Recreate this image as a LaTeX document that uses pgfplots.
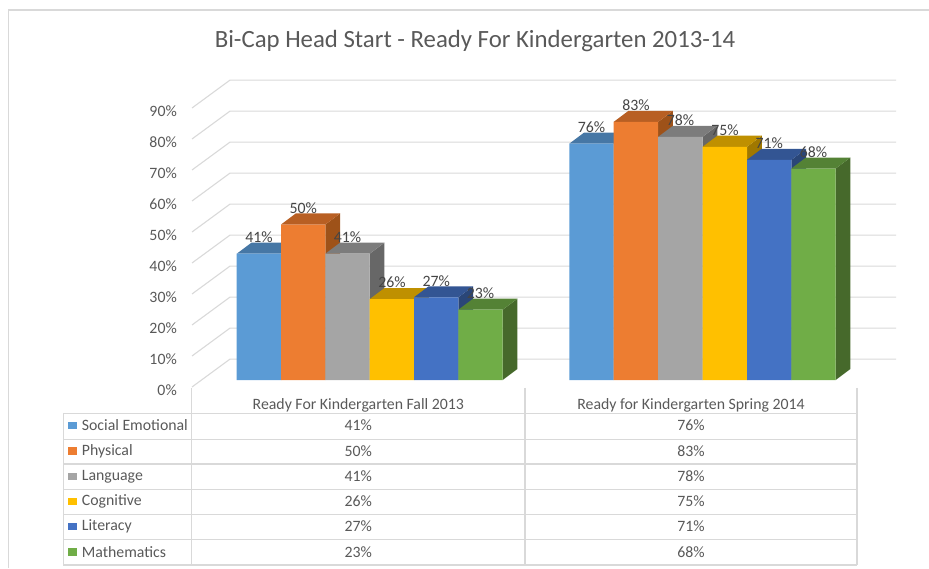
\documentclass[border=0pt]{standalone}
\usepackage{fontspec}
\setmainfont{Carlito}
\usepackage{pgfplots}
\pgfplotsset{compat=1.18}
\definecolor{txt}{HTML}{595959}
\definecolor{lab}{HTML}{454545}
\definecolor{gr}{HTML}{D9D9D9}
\definecolor{fa}{HTML}{5B9BD5}\definecolor{ta}{HTML}{4677A5}\definecolor{sa}{HTML}{3A6487}
\definecolor{fb}{HTML}{ED7D31}\definecolor{tb}{HTML}{B85F23}\definecolor{sb}{HTML}{9E5219}
\definecolor{fc}{HTML}{A5A5A5}\definecolor{tc}{HTML}{7C7C7C}\definecolor{sc}{HTML}{676767}
\definecolor{fd}{HTML}{FFC000}\definecolor{td}{HTML}{BF9000}\definecolor{sd}{HTML}{A07800}
\definecolor{fe}{HTML}{4472C4}\definecolor{te}{HTML}{335593}\definecolor{se}{HTML}{2A4678}
\definecolor{ff}{HTML}{70AD47}\definecolor{tf}{HTML}{548235}\definecolor{sf}{HTML}{46692B}
\newcommand{\faces}[4]{%
 \pgfmathsetmacro\xa{#1-22.2}\pgfmathsetmacro\xb{#1+22.2}%
 \pgfmathsetmacro\xc{\xb+14.7}\pgfmathsetmacro\xd{\xa+14.7}\pgfmathsetmacro\vb{#2+3.54}%
 \edef\tmp{\noexpand\addplot[fill=#4,draw=none,forget plot] coordinates {(\xb,0)(\xc,3.54)(\xc,\vb)(\xb,#2)};
 \noexpand\addplot[fill=#3,draw=none,forget plot] coordinates {(\xa,#2)(\xb,#2)(\xc,\vb)(\xd,\vb)};}\tmp}
\newcommand{\gridl}[1]{\pgfmathsetmacro\vb{#1+9}\edef\tmp{\noexpand\addplot[gr,line width=1.1pt] coordinates {(192,#1)(230,\vb)(896,\vb)};}\tmp}
\begin{document}
\begin{tikzpicture}[x=1pt,y=1pt]
\useasboundingbox (0,0) rectangle (929,568);
\draw[gr,line width=1.1pt] (8.8,0) -- (8.8,558) -- (929,558);
\begin{axis}[at={(192pt,181pt)},anchor=south west,scale only axis,width=704pt,height=279pt,
 xmin=192,xmax=896,ymin=0,ymax=90,clip=false,
 axis x line=none, axis y line*=left, y axis line style={draw=none},
 ytick={0,10,...,90},yticklabels={0\%,10\%,20\%,30\%,40\%,50\%,60\%,70\%,80\%,90\%},
 major tick length=0pt,
 yticklabel style={font=\fontsize{15.8}{16}\selectfont,text=txt,anchor=east,inner sep=0pt,xshift=-15pt,yshift=-3pt}]
\gridl{0}\gridl{10}\gridl{20}\gridl{30}\gridl{40}\gridl{50}\gridl{60}\gridl{70}\gridl{80}\gridl{90}
\end{axis}
\begin{axis}[at={(0pt,0pt)},anchor=south west,scale only axis,width=929pt,height=568pt,
 xmin=0,xmax=929,ymin=-60.45,ymax=122.19,clip=false,hide axis,
 /pgf/number format/assume math mode=true,
 every node near coord/.style={anchor=center,yshift=16.5pt,font=\fontsize{15.8}{16}\selectfont,text=lab,inner sep=0pt}]
\faces{258.9}{40.6}{ta}{sa}\faces{591.5}{76}{ta}{sa}
\addplot[ybar,bar shift=0pt,bar width=44.4pt,fill=fa,draw=none,forget plot] coordinates {(258.9,40.6)(591.5,76)};
\faces{303.2}{50}{tb}{sb}\faces{635.9}{83}{tb}{sb}
\addplot[ybar,bar shift=0pt,bar width=44.4pt,fill=fb,draw=none,forget plot] coordinates {(303.2,50)(635.9,83)};
\faces{347.5}{40.6}{tc}{sc}\faces{680.4}{78.2}{tc}{sc}
\addplot[ybar,bar shift=0pt,bar width=44.4pt,fill=fc,draw=none,forget plot] coordinates {(347.5,40.6)(680.4,78.2)};
\faces{391.9}{26}{td}{sd}\faces{724.9}{75}{td}{sd}
\addplot[ybar,bar shift=0pt,bar width=44.4pt,fill=fd,draw=none,forget plot] coordinates {(391.9,26)(724.9,75)};
\faces{436.2}{26.6}{te}{se}\faces{769.2}{70.8}{te}{se}
\addplot[ybar,bar shift=0pt,bar width=44.4pt,fill=fe,draw=none,forget plot] coordinates {(436.2,26.6)(769.2,70.8)};
\faces{480.5}{22.6}{tf}{sf}\faces{813.5}{68}{tf}{sf}
\addplot[ybar,bar shift=0pt,bar width=44.4pt,fill=ff,draw=none,forget plot] coordinates {(480.5,22.6)(813.5,68)};
\addplot[draw=none,mark=none,point meta=y,
 nodes near coords={\pgfmathprintnumber[fixed,precision=0]{\pgfplotspointmeta}\%}] coordinates {
 (258.9,40.6)(303.2,50)(347.5,40.6)(391.9,26)(436.2,26.6)(480.5,22.6)
 (591.5,76)(635.9,83)(680.4,78.2)(724.9,75)(769.2,70.8)(813.5,68)};
\end{axis}
% title
\node[text=txt,font=\fontsize{24.8}{25}\selectfont,inner sep=0pt] at (475,526.5) {Bi-Cap Head Start - Ready For Kindergarten 2013-14};
% data table
\begin{scope}[gr,line width=1.1pt]
\foreach \y in {413.3,439.3,464,489.3,514.3,539.3,565} \draw ({63.3},{568-\y}) -- (857,{568-\y});
\draw (63.3,155) -- (63.3,3);
\foreach \x in {191.7,525,857} \draw (\x,180) -- (\x,3);
\end{scope}
\begin{scope}[every node/.style={text=txt,font=\fontsize{15.8}{16}\selectfont,inner sep=0pt}]
\node at (358.3,163) {Ready For Kindergarten Fall 2013};
\node at (691,163) {Ready for Kindergarten Spring 2014};
\foreach \y/\n/\c/\a/\b in {425.5/Social Emotional/fa/41/76,451/Physical/fb/50/83,476.5/Language/fc/41/78,501.5/Cognitive/fd/26/75,526.5/Literacy/fe/27/71,552/Mathematics/ff/23/68}{
 \fill[\c] (68.3,{568-\y-3.8}) rectangle (77.3,{568-\y+3.8});
 \node[anchor=west] at (81.7,{568-\y}) {\n};
 \node at (358.3,{568-\y}) {\a\%};
 \node at (691,{568-\y}) {\b\%};
}
\end{scope}
\end{tikzpicture}
\end{document}
